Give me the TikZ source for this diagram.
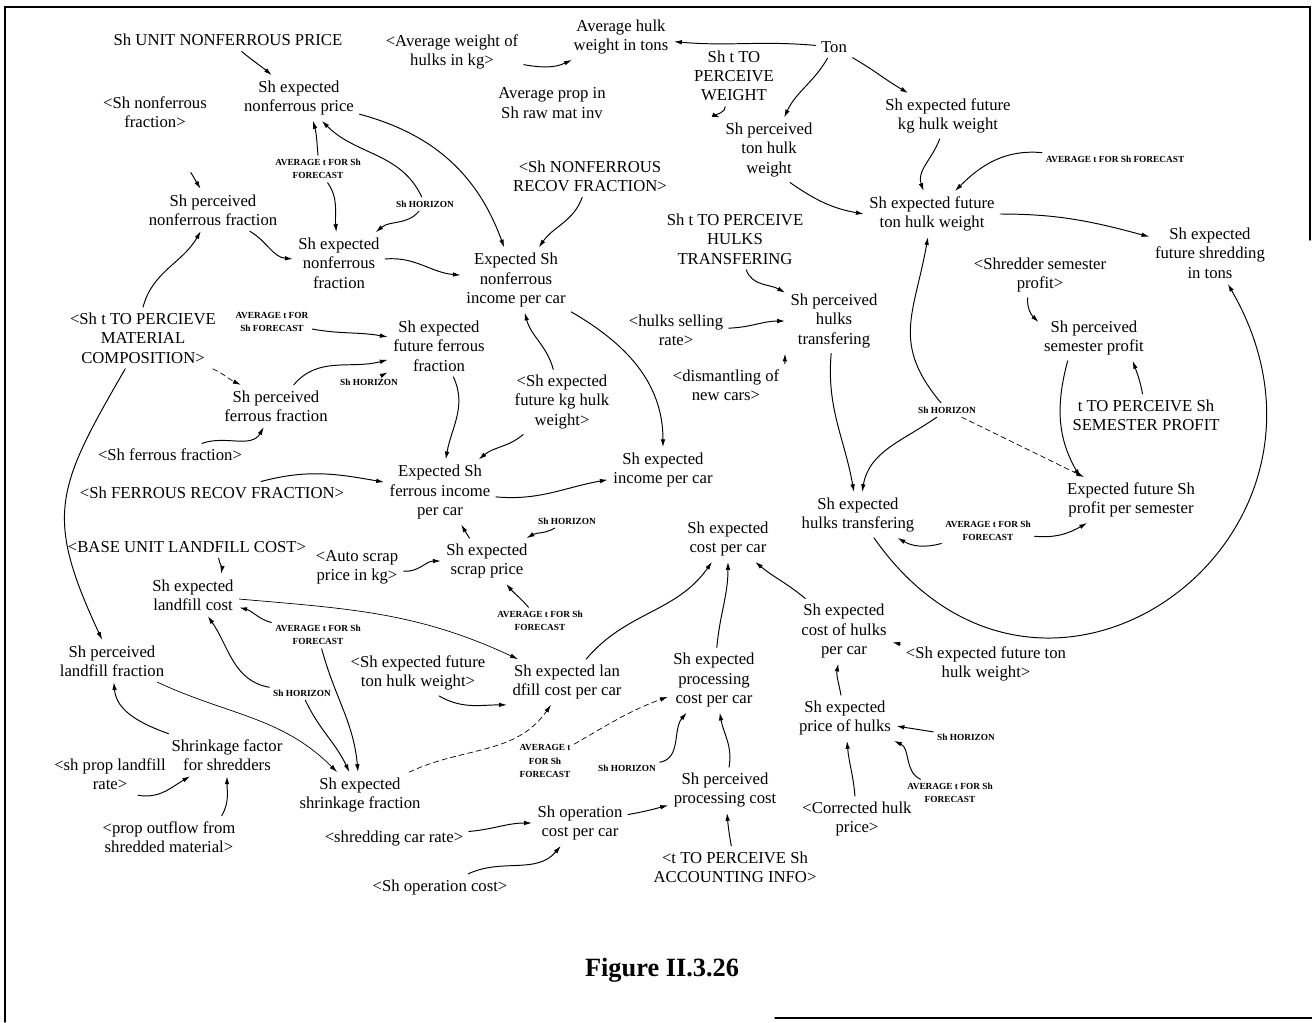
\documentclass[tikz,border=0pt]{standalone}
\usepackage{fontspec}
\setmainfont{Liberation Serif}
\usetikzlibrary{arrows.meta}
\newcommand\varfont{\fontsize{9.5}{11}\selectfont}
\newcommand\cstfont{\fontsize{5.3}{7.5}\selectfont\bfseries}

\begin{document}
\begin{tikzpicture}[x=0.02cm,y=-0.02cm,line cap=round,
    var/.style={align=center,font=\varfont,inner sep=3pt},
    cst/.style={align=center,font=\cstfont,inner sep=2pt},
    lnk/.style={-{Latex[length=4.5pt,width=2.6pt]},line width=0.55pt},
    faint/.style={lnk,densely dashed,line width=0.4pt}]
    \useasboundingbox (0,0) rectangle (1312,1022);
    \draw[line width=0.8pt] (5,1022) -- (5,7) -- (1310,7) -- (1310,240);
    \draw[line width=0.8pt] (775,1018) -- (1312,1018);

    \node[var] (unp) at (228,40) {Sh UNIT NONFERROUS PRICE};
    \node[var] (awk) at (452,52) {<Average weight of\\hulks in kg>};
    \node[var] (ahw) at (621,37) {Average hulk\\weight in tons};
    \node[var] (ton) at (834,47) {Ton};
    \node[var] (tpw) at (734,76) {Sh t TO\\PERCEIVE\\WEIGHT};
    \node[var] (apr) at (552,103) {Average prop in\\Sh raw mat inv};
    \node[var] (efkg) at (948,116) {Sh expected future\\kg hulk weight};
    \node[var] (snf) at (155,112) {<Sh nonferrous\\fraction>};
    \node[var] (enp) at (299,98) {Sh expected\\nonferrous price};
    \node[cst] (avg1) at (318,169) {AVERAGE t FOR Sh\\FORECAST};
    \node[cst] (hor1) at (425,204) {Sh HORIZON};
    \node[var] (pnf) at (213,210) {Sh perceived\\nonferrous fraction};
    \node[var] (enf) at (339,263) {Sh expected\\nonferrous\\fraction};
    \node[var] (nrf) at (590,176) {<Sh NONFERROUS\\RECOV FRACTION>};
    \node[var] (eni) at (516,280) {Expected Sh\\nonferrous\\income per car};
    \node[var] (pth) at (769,150) {Sh perceived\\ton hulk\\weight};
    \node[cst] (avg2) at (1115,159) {AVERAGE t FOR Sh FORECAST};
    \node[var] (eft) at (932,214) {Sh expected future\\ton hulk weight};
    \node[var] (efs) at (1210,253) {Sh expected\\future shredding\\in tons};
    \node[var] (tph) at (735,239) {Sh t TO PERCEIVE\\HULKS\\TRANSFERING};
    \node[var] (ssp) at (1040,275) {<Shredder semester\\profit>};
    \node[var] (psp) at (1094,338) {Sh perceived\\semester profit};
    \node[var] (pht) at (834,321) {Sh perceived\\hulks\\transfering};
    \node[var] (hsr) at (676,330) {<hulks selling\\rate>};
    \node[var] (dnc) at (726,385) {<dismantling of\\new cars>};
    \node[cst] (hor5) at (947,410) {Sh HORIZON};
    \node[var] (tsp) at (1146,415) {t TO PERCEIVE Sh\\SEMESTER PROFIT};
    \node[var] (efp) at (1131,500) {Expected future Sh\\profit per semester};
    \node[var] (eht) at (858,515) {Sh expected\\hulks transfering};
    \node[cst] (avg5) at (988,531) {AVERAGE t FOR Sh\\FORECAST};
    \node[var] (tmc) at (143,338) {<Sh t TO PERCIEVE\\MATERIAL\\COMPOSITION>};
    \node[cst] (avg8) at (272,322) {AVERAGE t FOR\\Sh FORECAST};
    \node[var] (eff) at (439,346) {Sh expected\\future ferrous\\fraction};
    \node[cst] (hor8) at (369,382) {Sh HORIZON};
    \node[var] (pff) at (276,406) {Sh perceived\\ferrous fraction};
    \node[var] (sff) at (170,455) {<Sh ferrous fraction>};
    \node[var] (ekg) at (562,402) {<Sh expected\\future kg hulk\\weight>};
    \node[var] (efi) at (440,492) {Expected Sh\\ferrous income\\per car};
    \node[var] (eic) at (663,470) {Sh expected\\income per car};
    \node[var] (frf) at (212,493) {<Sh FERROUS RECOV FRACTION>};
    \node[var] (bulc) at (187,547) {<BASE UNIT LANDFILL COST>};
    \node[var] (asp) at (357,567) {<Auto scrap\\price in kg>};
    \node[cst] (hor7) at (567,521) {Sh HORIZON};
    \node[var] (esp) at (487,561) {Sh expected\\scrap price};
    \node[var] (ecc) at (728,539) {Sh expected\\cost per car};
    \node[var] (elc) at (193,595) {Sh expected\\landfill cost};
    \node[cst] (avg7) at (540,621) {AVERAGE t FOR Sh\\FORECAST};
    \node[cst] (avg9) at (318,635) {AVERAGE t FOR Sh\\FORECAST};
    \node[var] (plf) at (112,661) {Sh perceived\\landfill fraction};
    \node[var] (etw) at (418,673) {<Sh expected future\\ton hulk weight>};
    \node[var] (elcc) at (567,682) {Sh expected lan\\dfill cost per car};
    \node[cst] (hor9) at (302,693) {Sh HORIZON};
    \node[var] (epc) at (714,680) {Sh expected\\processing\\cost per car};
    \node[var] (ech) at (844,631) {Sh expected\\cost of hulks\\per car};
    \node[var] (etw2) at (986,664) {<Sh expected future ton\\hulk weight>};
    \node[var] (eph) at (845,718) {Sh expected\\price of hulks};
    \node[cst] (hor11) at (966,737) {Sh HORIZON};
    \node[cst] (avg11) at (950,793) {AVERAGE t FOR Sh\\FORECAST};
    \node[var] (skf) at (227,755) {Shrinkage factor\\for shredders};
    \node[var] (plr) at (110,774) {<sh prop landfill\\rate>};
    \node[cst] (avg10) at (545,761) {AVERAGE t\\FOR Sh\\FORECAST};
    \node[cst] (hor10) at (627,768) {Sh HORIZON};
    \node[var] (esf) at (360,795) {Sh expected\\shrinkage fraction};
    \node[var] (ppc) at (725,790) {Sh perceived\\processing cost};
    \node[var] (occ) at (580,823) {Sh operation\\cost per car};
    \node[var] (scr) at (394,838) {<shredding car rate>};
    \node[var] (pof) at (169,837) {<prop outflow from\\shredded material>};
    \node[var] (tai) at (735,867) {<t TO PERCEIVE Sh\\ACCOUNTING INFO>};
    \node[var] (soc) at (440,887) {<Sh operation cost>};
    \node[var] (chp) at (857,819) {<Corrected hulk\\price>};
    \node[font=\fontsize{15}{18}\selectfont\bfseries] (cap) at (662,970) {Figure II.3.26};

    \draw[lnk] (unp) to[out=-40,in=140] (enp);
    \draw[lnk] (avg1.north) to[out=95,in=-75] ([xshift=8pt]enp.south);
    \draw[lnk] (avg1) to[out=-55,in=95] (enf);
    \draw[lnk] (hor1) to[out=115,in=-45] (enp);
    \draw[lnk] (hor1) to[out=-130,in=40] (enf);
    \draw[lnk] (enp) to[out=-15,in=110] (eni);
    \draw[lnk] (pnf) to[out=-30,in=175] (enf);
    \draw[lnk] (enf) to[out=5,in=175] (eni);
    \draw[lnk,shorten <=26pt] (snf) -- (pnf);
    \draw[lnk] (tmc.north) to[out=75,in=-120] (pnf);
    \draw[lnk] (nrf) to[out=-110,in=55] (eni);
    \draw[lnk] (awk) to[out=-10,in=-155] (ahw);
    \draw[lnk] (ton) to[out=175,in=-5] (ahw);
    \draw[lnk] (ton) to[out=-120,in=65] (pth);
    \draw[lnk] ([xshift=-5pt]tpw.south) to[out=-80,in=160] (pth.north west);
    \draw[lnk] (ton) to[out=-30,in=150] (efkg);
    \draw[lnk] ([xshift=12pt]pth.south) to[out=-35,in=170] (eft.west);
    \draw[lnk] (efkg) to[out=-110,in=110] (eft);
    \draw[lnk] (avg2) to[out=175,in=45] (eft);
    \draw[lnk] (eft) to[out=0,in=165] (efs);
    \draw[lnk] (eht) to[out=-55,in=-60,looseness=1.73] (efs);
    \draw[lnk] (hor5) to[out=130,in=-100,looseness=1.2] (eft);
    \draw[lnk] (hor5) to[out=-145,in=80] (eht);
    \draw[faint] (hor5) -- (efp);
    \draw[lnk] ([xshift=-7pt]ssp.south) to[out=-95,in=135] ([yshift=-4pt]psp.north west);
    \draw[lnk] ([xshift=-2pt]tsp.north) to[out=100,in=-70] ([xshift=22pt]psp.south);
    \draw[lnk] ([xshift=-15pt]psp.south) to[out=-105,in=120] ([xshift=-29pt]efp.north);
    \draw[lnk] (avg5) to[out=-165,in=-30] (eht);
    \draw[lnk] ([yshift=-3pt]avg5.east) to[out=-5,in=-150] ([xshift=-25pt]efp.south);
    \draw[lnk] (tph) to[out=-70,in=150] (pht);
    \draw[lnk] (hsr) to[out=2,in=180] (pht);
    \draw[lnk] (dnc.north east) -- (pht.south west);
    \draw[lnk] (pht) to[out=-95,in=100] (eht);
    \draw[lnk] (eni) to[out=-30,in=90] (eic);
    \draw[lnk] (ekg) to[out=105,in=-75] (eni);
    \draw[lnk] (eff) to[out=-65,in=80] (efi);
    \draw[lnk] (ekg) to[out=-140,in=40] (efi);
    \draw[lnk] (efi) to[out=-5,in=-170] (eic);
    \draw[lnk] ([xshift=-10pt]esp.north) -- ([xshift=12pt]efi.south);
    \draw[lnk] (hor7) to[out=-150,in=30] (esp);
    \draw[lnk] (asp) to[out=-5,in=180] (esp);
    \draw[lnk] (avg7) to[out=130,in=-50] (esp);
    \draw[lnk] ([xshift=28pt]frf.north) to[out=15,in=170] (efi);
    \draw[lnk] (avg8) to[out=-10,in=170] (eff);
    \draw[lnk] (pff) to[out=50,in=-165] (eff);
    \draw[lnk] (hor8) -- (eff);
    \draw[faint] ([xshift=-5pt]tmc.south east) to[out=-25,in=155] ([xshift=-20pt]pff.north);
    \draw[lnk] (sff) to[out=20,in=-120] (pff);
    \draw[lnk] (tmc) to[out=-120,in=115,looseness=1.3] (plf);
    \draw[lnk] ([xshift=18pt]bulc.south) to[out=-80,in=80] ([xshift=16pt]elc.north);
    \draw[lnk,line width=0.4pt] (elc) to[out=-5,in=155] (elcc);
    \draw[lnk] (avg9) to[out=165,in=-15] (elc);
    \draw[lnk] (hor9) to[out=170,in=-55] (elc);
    \draw[lnk] (hor9) to[out=-65,in=115] (esf);
    \draw[lnk] (avg9) to[out=-75,in=95] (esf);
    \draw[lnk,line width=0.4pt] (plf) to[out=-25,in=135] (esf);
    \draw[lnk] (skf) to[out=160,in=-85] (plf);
    \draw[lnk] ([xshift=16pt]plr.south) to[out=-10,in=-150] (skf);
    \draw[lnk] ([xshift=30pt]pof.north) to[out=60,in=-90] (skf);
    \draw[lnk] ([xshift=12pt]etw.south) to[out=-30,in=180] (elcc.south west);
    \draw[faint] (esf) to[out=25,in=-125] (elcc);
    \draw[faint] (avg10) to[out=30,in=-160] (epc);
    \draw[lnk] (hor10) to[out=10,in=-130] (epc);
    \draw[lnk] (ppc) to[out=80,in=-80] (epc);
    \draw[lnk] (occ) to[out=10,in=-165] (ppc);
    \draw[lnk] (tai) to[out=100,in=-85] (ppc);
    \draw[lnk] (scr) to[out=5,in=180] (occ);
    \draw[lnk] (soc) to[out=25,in=-130] (occ);
    \draw[lnk] (elcc) to[out=50,in=-125] (ecc);
    \draw[lnk] (epc) to[out=85,in=-90] (ecc);
    \draw[lnk] (ech) to[out=140,in=-40] (ecc);
    \draw[lnk] (eph) to[out=100,in=-100] (ech);
    \draw[lnk] (etw2) -- (ech);
    \draw[lnk] (hor11) -- (eph);
    \draw[lnk] (avg11) to[out=155,in=-25] (eph);
    \draw[lnk] (chp) to[out=95,in=-85] (eph);
\end{tikzpicture}
\end{document}
